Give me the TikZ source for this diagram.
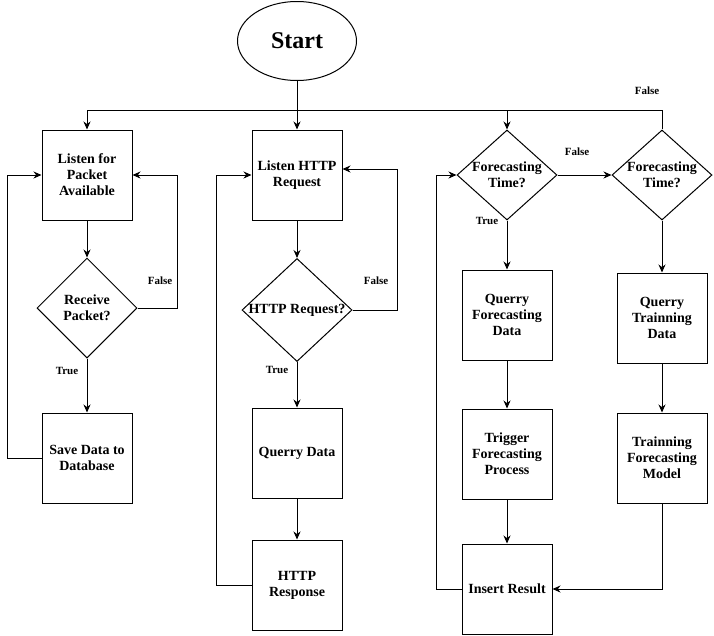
\documentclass[tikz,border=0pt]{standalone}
\usepackage{fontspec}
\setmainfont{Liberation Serif}
\usepackage{tikz}
\usetikzlibrary{arrows.meta,shapes.geometric,positioning,calc}

\begin{document}
\begin{tikzpicture}[x=1pt, y=-1pt, >={Stealth[length=8pt,width=7pt]},
    line/.style={line width=1pt},
    box/.style={draw, line width=1pt, minimum width=90pt, minimum height=90pt, inner sep=0pt,
                align=center, font=\bfseries\fontsize{14}{16}\selectfont},
    decision/.style={draw, diamond, line width=1pt, inner sep=0pt, minimum width=100pt, minimum height=90pt},
    dtext/.style={align=center, font=\bfseries\fontsize{14}{16}\selectfont},
    lbl/.style={font=\bfseries\fontsize{11}{13}\selectfont}]
    \useasboundingbox (0,0) rectangle (714,635);
    % Start
    \node[draw, ellipse, line width=1pt, minimum width=119pt, minimum height=79pt,
          font=\bfseries\fontsize{24}{28}\selectfont] (start) at (297,41) {Start};
    \coordinate (split) at (297,110);
    % Packet column
    \node[box] (listen1) at (87,175) {Listen for\\Packet\\Available};
    \node[decision, minimum height=100pt, label={[dtext]center:Receive\\Packet?}] (recv) at (87,308) {};
    \node[box] (save) at (87,458) {Save Data to\\Database};
    % HTTP column
    \node[box] (listen2) at (297,175) {Listen HTTP\\Request};
    \node[decision, minimum width=110pt, minimum height=103pt, label={[dtext]center:HTTP Request?}] (httpq) at (297,310) {};
    \node[box] (qdata) at (297,453) {Querry Data};
    \node[box] (resp) at (297,585) {HTTP\\Response};
    % Forecasting column
    \node[decision, label={[dtext]center:Forecasting\\Time?}] (fc1) at (507,175) {};
    \node[box] (qfd) at (507,315) {Querry\\Forecasting\\Data};
    \node[box] (trig) at (507,454) {Trigger\\Forecasting\\Process};
    \node[box] (ins) at (507,589) {Insert Result};
    % Training column
    \node[decision, label={[dtext]center:Forecasting\\Time?}] (fc2) at (662,175) {};
    \node[box] (qtd) at (662,318) {Querry\\Trainning\\Data};
    \node[box] (train) at (662,458) {Trainning\\Forecasting\\Model};
    % Top split
    \draw[line, ->] (start) -- (listen2);
    \draw[line, ->] (split) -| (listen1);
    \draw[line, ->] (split) -| (fc1);
    \draw[line] (fc2) |- (split);
    % Packet loop
    \draw[line, ->] (listen1) -- (recv);
    \draw[line, ->] (recv) -- (save);
    \draw[line, ->] (save.west) -- ++(-34,0) |- (listen1.west);
    \draw[line, ->] (recv.east) -- ++(40,0) |- (listen1.east);
    % HTTP loop
    \draw[line, ->] (listen2) -- (httpq);
    \draw[line, ->] (httpq) -- (qdata);
    \draw[line, ->] (qdata) -- (resp);
    \draw[line, ->] (resp.west) -- ++(-35,0) |- (listen2.west);
    \draw[line, ->] (httpq.east) -- ++(45,0) |- ([yshift=6pt]listen2.east);
    % Forecasting loop
    \draw[line, ->] (fc1) -- (fc2);
    \draw[line, ->] (fc1) -- (qfd);
    \draw[line, ->] (qfd) -- (trig);
    \draw[line, ->] (trig) -- (ins);
    \draw[line, ->] (ins.west) -- ++(-25,0) |- (fc1.west);
    \draw[line, ->] (fc2) -- (qtd);
    \draw[line, ->] (qtd) -- (train);
    \draw[line, ->] (train) |- (ins);
    % Branch labels
    \node[lbl] (f0) at (647,91) {False};
    \node[lbl] (f1) at (160,281) {False};
    \node[lbl] (t1) at (67,371) {True};
    \node[lbl] (f2) at (376,281) {False};
    \node[lbl] (t2) at (277,370) {True};
    \node[lbl] (f3) at (577,152) {False};
    \node[lbl] (t3) at (487,221) {True};
\end{tikzpicture}
\end{document}
